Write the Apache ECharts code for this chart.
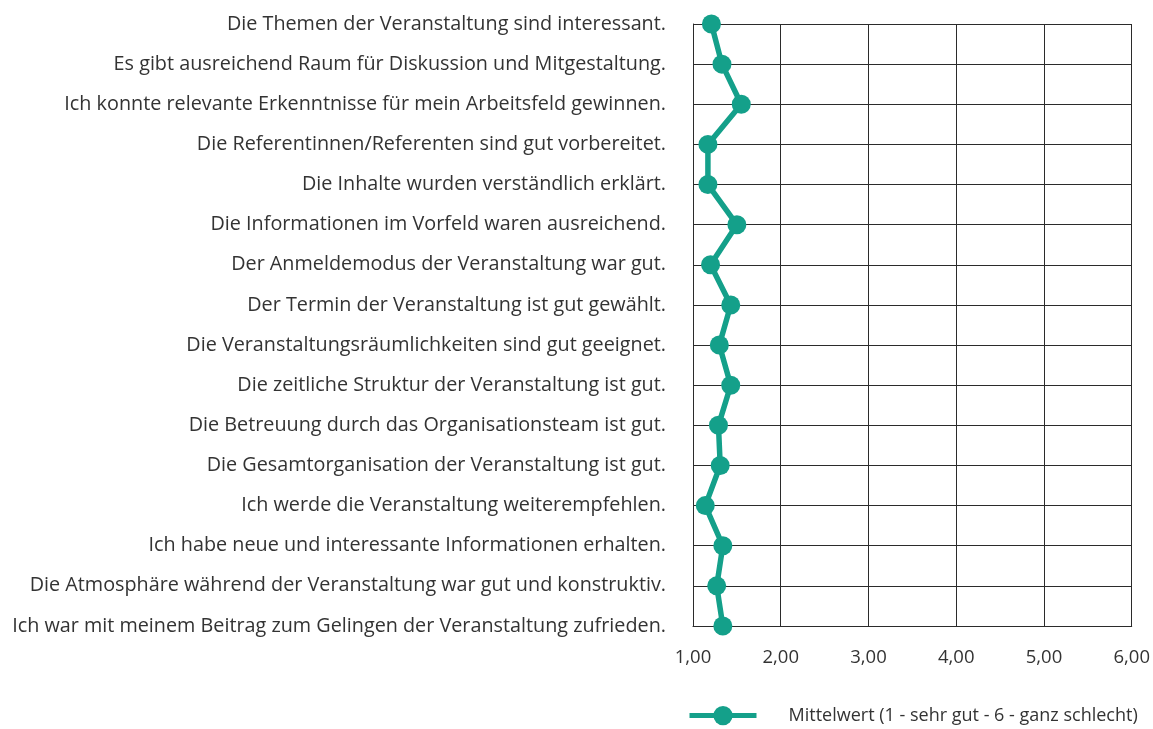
<!DOCTYPE html>
<html><head><meta charset="utf-8">
<script src="https://cdn.jsdelivr.net/npm/echarts@6/dist/echarts.min.js"></script>
<style>html,body{margin:0;padding:0;background:#fff}#c{width:1153px;height:729px}</style>
</head><body><div id="c"></div>
<script>
const categories = [
"Die Themen der Veranstaltung sind interessant.",
"Es gibt ausreichend Raum für Diskussion und Mitgestaltung.",
"Ich konnte relevante Erkenntnisse für mein Arbeitsfeld gewinnen.",
"Die Referentinnen/Referenten sind gut vorbereitet.",
"Die Inhalte wurden verständlich erklärt.",
"Die Informationen im Vorfeld waren ausreichend.",
"Der Anmeldemodus der Veranstaltung war gut.",
"Der Termin der Veranstaltung ist gut gewählt.",
"Die Veranstaltungsräumlichkeiten sind gut geeignet.",
"Die zeitliche Struktur der Veranstaltung ist gut.",
"Die Betreuung durch das Organisationsteam ist gut.",
"Die Gesamtorganisation der Veranstaltung ist gut.",
"Ich werde die Veranstaltung weiterempfehlen.",
"Ich habe neue und interessante Informationen erhalten.",
"Die Atmosphäre während der Veranstaltung war gut und konstruktiv.",
"Ich war mit meinem Beitrag zum Gelingen der Veranstaltung zufrieden."
];
const meanValues = [1.21,1.33,1.55,1.17,1.17,1.50,1.20,1.43,1.30,1.43,1.29,1.31,1.14,1.34,1.27,1.34];
const seriesName = "Mittelwert (1 - sehr gut - 6 - ganz schlecht)";
const xMin = 1, xMax = 6, xStep = 1;

const chart = echarts.init(document.getElementById('c'));
const font = "'Open Sans', sans-serif";
chart.setOption({
  animation: false,
  textStyle: {fontFamily: font},
  grid: {left: 693, right: 20, top: 24, bottom: 103, containLabel: false},
  xAxis: {
    type: 'value', min: xMin, max: xMax, interval: xStep,
    axisLine: {show: true, lineStyle: {color: '#2b2b2b', width: 1}},
    axisTick: {show: false},
    splitLine: {show: true, lineStyle: {color: '#2b2b2b', width: 1}},
    axisLabel: {fontFamily: font, fontSize: 18.5, color: '#333', margin: 22,
      formatter: v => v.toFixed(2).replace('.', ',')}
  },
  yAxis: {
    type: 'category', data: categories, inverse: true, boundaryGap: false,
    axisLine: {show: true, lineStyle: {color: '#2b2b2b', width: 1}},
    axisTick: {show: false},
    splitLine: {show: true, lineStyle: {color: '#2b2b2b', width: 1}},
    axisLabel: {fontFamily: font, fontSize: 19.8, color: '#333', margin: 27, interval: 0}
  },
  legend: {
    top: 701, left: 682,
    itemWidth: 67, itemHeight: 24,
    lineStyle: {width: 5},
    textStyle: {fontFamily: font, fontSize: 18, color: '#333', padding: [0, 0, 0, 27]},
    data: [seriesName]
  },
  series: [{
    name: seriesName, type: 'line', data: meanValues,
    symbol: 'circle', symbolSize: 19,
    lineStyle: {color: '#14a08a', width: 5.5},
    itemStyle: {color: '#14a08a'}
  }]
});
</script></body></html>
